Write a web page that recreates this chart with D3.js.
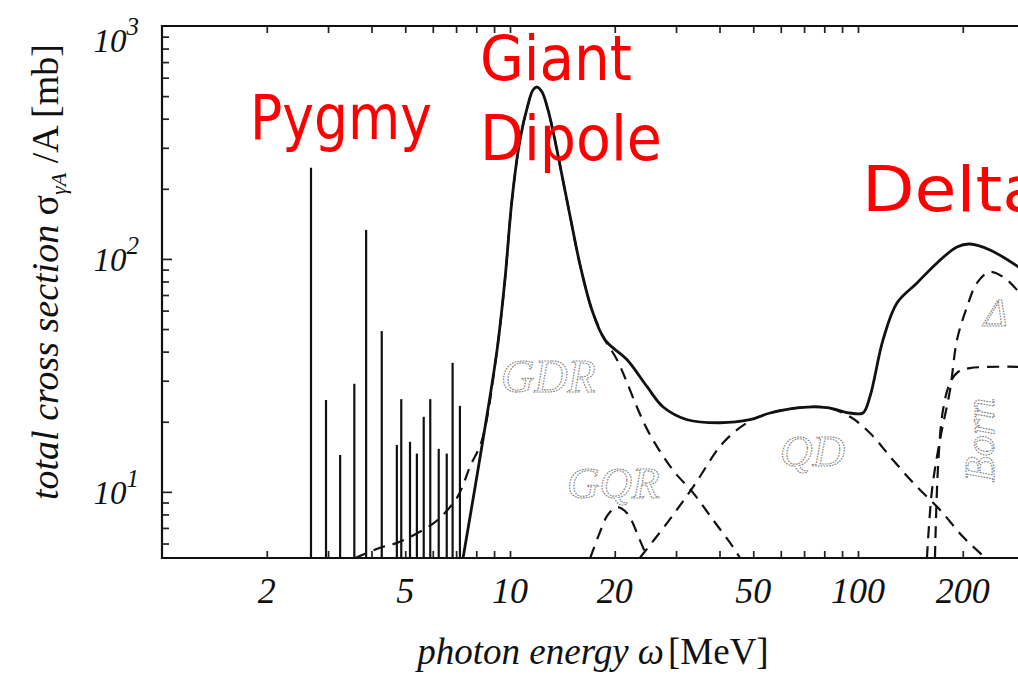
<!DOCTYPE html>
<html>
<head>
<meta charset="utf-8">
<script src="https://cdn.jsdelivr.net/npm/d3@7"></script>
<style>
  html, body { margin: 0; padding: 0; background: #fff; }
  svg { display: block; }
</style>
</head>
<body>
<svg id="chart" width="1018" height="676"></svg>
<script>
// ---------------- DATA ----------------
const xTickLabels = [2, 5, 10, 20, 50, 100, 200];
const yTickLabels = [10, 100, 1000];
const yTickExponents = ["1", "2", "3"];

// Pygmy spikes (energy MeV, height mb)
const pygmyEnergy = [2.68, 2.96, 3.25, 3.57, 3.86, 4.28, 4.73, 4.87, 5.16, 5.40, 5.65, 5.90, 6.24, 6.58, 6.84, 7.18];
const pygmyHeight = [246, 24.8, 14.4, 29.1, 133, 49, 15.9, 25, 16.4, 14.6, 21, 25, 15.3, 14.6, 35.8, 23.4];

// Total cross section (solid)
const totalE = [7.33, 8.36, 9.18, 9.67, 10.13, 10.68, 11.26, 11.64, 11.96, 12.36, 12.86, 13.46, 14.1, 14.86, 15.9, 17.2, 18.75, 21.7, 24.8, 27.5, 32.3, 40.1, 48.9, 55.9, 68.1, 81.4, 94.9, 103.3, 108.2, 118, 129.4, 147.8, 168.7, 192.4, 209.7, 239.4, 292];
const totalS = [5.2, 16.7, 40.7, 81.3, 179, 324, 458, 531, 547, 521, 436, 324, 229, 154.5, 94.2, 60.4, 44.9, 36.9, 28.2, 23.2, 20.4, 19.8, 20.4, 21.8, 23.0, 23.0, 21.8, 21.8, 25.6, 44.9, 64.7, 78.9, 96.1, 112.6, 115.9, 109.3, 91.5];

// GDR component (dashed)
const gdrE = [3.59, 3.88, 4.32, 4.74, 5.63, 6.21, 7.04, 7.33, 7.67, 8.31, 9.18, 9.67, 10.13, 10.68, 11.26, 11.64, 11.96, 12.36, 12.86, 13.46, 14.1, 14.86, 15.9, 17.2, 18.75, 20.3, 24.8, 29.4, 33.6, 38.3, 43.7, 45.8];
const gdrS = [5.2, 5.47, 5.81, 6.04, 6.87, 7.59, 9.42, 10.7, 12.8, 16.7, 40.7, 81.3, 179, 324, 458, 531, 547, 521, 436, 324, 229, 154.5, 94.2, 60.4, 44.9, 36.9, 18.5, 12.4, 9.9, 7.59, 5.81, 5.2];

// GQR component (dashed)
const gqrE = [17.0, 18.1, 19.1, 20.3, 21.7, 23.6, 24.8];
const gqrS = [5.2, 6.67, 7.96, 8.6, 8.1, 6.22, 5.2];

// QD component (dashed)
const qdE = [23.6, 28.3, 33.6, 40.9, 48.0, 55.9, 68.1, 81.4, 94.9, 108.2, 126, 147.8, 172, 200.3, 224, 232];
const qdS = [5.2, 7.36, 10.5, 16.2, 19.8, 21.8, 23.0, 23.0, 21.0, 17.9, 13.7, 10.5, 8.37, 6.41, 5.47, 5.2];

// Delta component (dashed)
const deltaE = [157.8, 163.2, 172, 183.9, 192.5, 205.7, 219.8, 239.4, 268, 302];
const deltaS = [5.2, 10.2, 16.7, 27.4, 44.9, 62.2, 78.9, 88, 81.3, 66.7];

// Born component (dashed)
const bornE = [166.4, 169.8, 175.5, 183.9, 193.8, 209.8, 302];
const bornS = [5.2, 12.8, 22.5, 29.4, 32.7, 34.0, 34.4];

// ---------------- CHART ----------------
const svg = d3.select("#chart");
const plotLeft = 162, plotTop = 26, plotBottom = 558;
const pxPerDecade = 348;

const x = d3.scaleLog().domain([1, 300]).range([plotLeft, plotLeft + pxPerDecade * Math.log10(300)]);
const y = d3.scaleLog().domain([5.2, 1000]).range([plotBottom, plotTop]);

const serif = "'Liberation Serif', 'Times New Roman', serif";

svg.append("defs").append("clipPath").attr("id", "plotclip")
  .append("rect").attr("x", plotLeft).attr("y", plotTop).attr("width", 1018 - plotLeft + 10).attr("height", plotBottom - plotTop);

const plot = svg.append("g").attr("clip-path", "url(#plotclip)");

// gray dotted labels
function grayLabel(txt, px, py, size, rot) {
  const t = svg.append("text")
    .attr("x", px).attr("y", py)
    .attr("font-family", serif).attr("font-style", "italic")
    .attr("font-size", size)
    .attr("fill", "#fff").attr("stroke", "#7a7a7a").attr("stroke-width", 1.1)
    .attr("stroke-dasharray", "1.6,1.2")
    .text(txt);
  if (rot) t.attr("transform", `rotate(${rot},${px},${py})`).attr("text-anchor", "middle");
  return t;
}
grayLabel("GDR", 501, 392, 46);
grayLabel("GQR", 567, 498, 45);
grayLabel("QD", 780, 466, 45);
grayLabel("Born", 994, 440, 42, -90);
grayLabel("Δ", 984, 326, 40);

// spikes
plot.selectAll("line.spike").data(pygmyEnergy).join("line")
  .attr("class", "spike")
  .attr("x1", d => x(d)).attr("x2", d => x(d))
  .attr("y1", y(5.2)).attr("y2", (d, i) => y(pygmyHeight[i]))
  .attr("stroke", "#111").attr("stroke-width", 2.2);

const line = d3.line().x(d => x(d[0])).y(d => y(d[1])).curve(d3.curveCatmullRom.alpha(0.5));
const zipper = (a, b) => a.map((v, i) => [v, b[i]]);

const dashed = [[gdrE, gdrS], [gqrE, gqrS], [qdE, qdS], [deltaE, deltaS], [bornE, bornS]];
dashed.forEach(([e, s]) => {
  plot.append("path").attr("d", line(zipper(e, s)))
    .attr("fill", "none").attr("stroke", "#111").attr("stroke-width", 2.2)
    .attr("stroke-dasharray", "12,8");
});

plot.append("path").attr("d", line(zipper(totalE, totalS)))
  .attr("fill", "none").attr("stroke", "#111").attr("stroke-width", 2.8)
  .attr("stroke-linejoin", "round");

// axes (ticks inward)
const xTickVals = x.ticks().filter(v => v > 1 && v <= 300);
svg.append("g").attr("transform", `translate(0,${plotBottom})`)
  .call(d3.axisBottom(x).tickValues(xTickVals).tickSizeInner(-7).tickSizeOuter(0).tickFormat(() => ""))
  .call(g => g.select(".domain").remove())
  .call(g => g.selectAll("line").attr("stroke", "#222").attr("stroke-width", 1.7));
svg.append("g").attr("transform", `translate(0,${plotTop})`)
  .call(d3.axisTop(x).tickValues(xTickVals).tickSizeInner(-7).tickSizeOuter(0).tickFormat(() => ""))
  .call(g => g.select(".domain").remove())
  .call(g => g.selectAll("line").attr("stroke", "#222").attr("stroke-width", 1.7));
const yTickVals = y.ticks().filter(v => v >= 5.2 && v < 1000);
svg.append("g").attr("transform", `translate(${plotLeft},0)`)
  .call(d3.axisLeft(y).tickValues(yTickVals).tickSizeInner(-7).tickSizeOuter(0).tickFormat(() => ""))
  .call(g => g.select(".domain").remove())
  .call(g => g.selectAll("line").attr("stroke", "#222").attr("stroke-width", 1.7))
  .call(g => g.selectAll(".tick").filter(d => yTickLabels.includes(d)).select("line").attr("x2", 10));

// frame
svg.append("path")
  .attr("d", `M1030,${plotTop}H${plotLeft}V${plotBottom}H1030`)
  .attr("fill", "none").attr("stroke", "#111").attr("stroke-width", 2.2);

// x tick labels
svg.selectAll("text.xl").data(xTickLabels).join("text")
  .attr("class", "xl")
  .attr("x", d => x(d)).attr("y", 603)
  .attr("text-anchor", "middle")
  .attr("font-family", serif).attr("font-style", "italic").attr("font-size", 36)
  .attr("fill", "#111")
  .text(d => d);

// y tick labels (top one sits just below the frame corner)
yTickLabels.forEach((v, i) => {
  const base = v === 1000 ? 52 : y(v) + 12;
  const t = svg.append("text")
    .attr("x", 139).attr("y", base)
    .attr("text-anchor", "end")
    .attr("font-family", serif).attr("font-style", "italic").attr("font-size", 33)
    .attr("fill", "#111");
  t.append("tspan").text("10");
  t.append("tspan").attr("dy", -17).attr("font-size", 25).text(yTickExponents[i]);
});

// axis titles
const xt = svg.append("text")
  .attr("x", 593).attr("y", 664)
  .attr("text-anchor", "middle")
  .attr("font-family", serif).attr("font-size", 37).attr("fill", "#111");
xt.append("tspan").attr("font-style", "italic").text("photon energy ω");
xt.append("tspan").text("[MeV]").attr("dx", 4);

const yt = svg.append("text")
  .attr("transform", "translate(58,272) rotate(-90)")
  .attr("text-anchor", "middle")
  .attr("font-family", serif).attr("font-size", 38).attr("fill", "#111");
yt.append("tspan").attr("font-style", "italic").text("total cross section ");
yt.append("tspan").text("σ");
yt.append("tspan").attr("font-size", 22).attr("font-style", "italic").attr("dy", 8).text("γA");
yt.append("tspan").attr("dy", -8).text(" /A  [mb]");

// red annotations
const redFont = "'DejaVu Sans', 'Noto Sans', sans-serif";
function red(txt, px, py, len) {
  svg.append("text").attr("x", px).attr("y", py)
    .attr("font-family", redFont).attr("font-size", 62).attr("fill", "#ff0000")
    .attr("textLength", len).attr("lengthAdjust", "spacingAndGlyphs")
    .text(txt);
}
red("Pygmy", 250, 139, 182);
red("Giant", 480, 80, 152);
red("Dipole", 480, 160, 182);
red("Delta", 862, 211, 182);
</script>
</body>
</html>
